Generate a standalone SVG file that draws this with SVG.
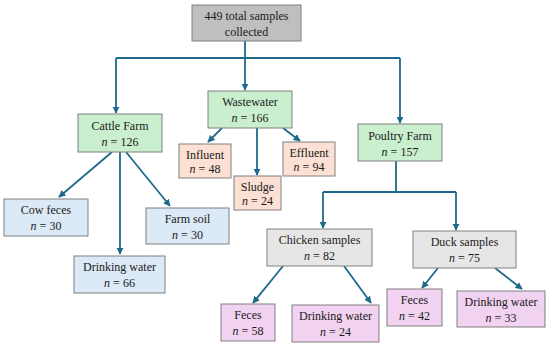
<svg xmlns="http://www.w3.org/2000/svg" width="550" height="348" viewBox="0 0 550 348">
<style>
.box{stroke:#808080;stroke-width:1}
.gray{fill:#bfbfbf}
.lgray{fill:#e7e6e6}
.green{fill:#c9efcf}
.peach{fill:#fbe0d3}
.blue{fill:#dce9f6}
.pink{fill:#f1d2f0}
text{font-size:12px;fill:#1a1a1a;text-anchor:middle}
.i{font-style:italic}
.c{fill:none;stroke:#1f6a8c;stroke-width:1.8}
</style>
<defs>
<marker id="ah" viewBox="0 0 10 10" refX="9" refY="5" markerWidth="4" markerHeight="4" orient="auto" markerUnits="strokeWidth">
<path d="M0,0 L10,5 L0,10 z" fill="#1f6a8c"/>
</marker>
</defs>
<rect width="550" height="348" fill="#ffffff"/>
<g id="connectors">
<path class="c" d="M245,41 V58 M116,58 H400"/>
<path class="c" d="M116,58 V113" marker-end="url(#ah)"/>
<path class="c" d="M245,58 V90" marker-end="url(#ah)"/>
<path class="c" d="M400,58 V123" marker-end="url(#ah)"/>
<path class="c" d="M222,128 L208,142" marker-end="url(#ah)"/>
<path class="c" d="M257,128 V175" marker-end="url(#ah)"/>
<path class="c" d="M283,128 L300,141" marker-end="url(#ah)"/>
<path class="c" d="M112,152 L59,197" marker-end="url(#ah)"/>
<path class="c" d="M120,152 V254" marker-end="url(#ah)"/>
<path class="c" d="M126,152 L170,206" marker-end="url(#ah)"/>
<path class="c" d="M396,161 V192 M323,192 H456"/>
<path class="c" d="M323,192 V228" marker-end="url(#ah)"/>
<path class="c" d="M456,192 V230" marker-end="url(#ah)"/>
<path class="c" d="M283,266 L253,303" marker-end="url(#ah)"/>
<path class="c" d="M344,266 L371,303" marker-end="url(#ah)"/>
<path class="c" d="M438,268 L422,288" marker-end="url(#ah)"/>
<path class="c" d="M495,268 L522,289" marker-end="url(#ah)"/>
</g>
<g font-family="'Liberation Serif', 'DejaVu Serif', serif">
<g id="total">
<rect class="box gray" x="192" y="5" width="109" height="36"/>
<text x="246.5" y="20">449 total samples</text>
<text x="246.5" y="36">collected</text>
</g>
<g id="wastewater">
<rect class="box green" x="208" y="91" width="84" height="37"/>
<text x="250" y="106">Wastewater</text>
<text x="250" y="122"><tspan class="i">n</tspan> = 166</text>
</g>
<g id="cattle">
<rect class="box green" x="78" y="114" width="84" height="38"/>
<text x="120" y="130">Cattle Farm</text>
<text x="120" y="146"><tspan class="i">n</tspan> = 126</text>
</g>
<g id="poultry">
<rect class="box green" x="358" y="124" width="84" height="37"/>
<text x="400" y="140">Poultry Farm</text>
<text x="400" y="156"><tspan class="i">n</tspan> = 157</text>
</g>
<g id="influent">
<rect class="box peach" x="179" y="144" width="52" height="34"/>
<text x="205" y="159">Influent</text>
<text x="205" y="173"><tspan class="i">n</tspan> = 48</text>
</g>
<g id="sludge">
<rect class="box peach" x="234" y="176" width="47" height="34"/>
<text x="257.5" y="191">Sludge</text>
<text x="257.5" y="205"><tspan class="i">n</tspan> = 24</text>
</g>
<g id="effluent">
<rect class="box peach" x="283" y="142" width="52" height="34"/>
<text x="309" y="157">Effluent</text>
<text x="309" y="171"><tspan class="i">n</tspan> = 94</text>
</g>
<g id="cowfeces">
<rect class="box blue" x="4" y="199" width="84" height="37"/>
<text x="46" y="214">Cow feces</text>
<text x="46" y="230"><tspan class="i">n</tspan> = 30</text>
</g>
<g id="farmsoil">
<rect class="box blue" x="146" y="208" width="83" height="36"/>
<text x="187.5" y="223">Farm soil</text>
<text x="187.5" y="239"><tspan class="i">n</tspan> = 30</text>
</g>
<g id="cattlewater">
<rect class="box blue" x="74" y="256" width="91" height="37"/>
<text x="119.5" y="271">Drinking water</text>
<text x="119.5" y="287"><tspan class="i">n</tspan> = 66</text>
</g>
<g id="chicken">
<rect class="box lgray" x="267" y="229" width="105" height="37"/>
<text x="319.5" y="244">Chicken samples</text>
<text x="319.5" y="260"><tspan class="i">n</tspan> = 82</text>
</g>
<g id="duck">
<rect class="box lgray" x="413" y="231" width="103" height="37"/>
<text x="464.5" y="246">Duck samples</text>
<text x="464.5" y="262"><tspan class="i">n</tspan> = 75</text>
</g>
<g id="chickenfeces">
<rect class="box pink" x="221" y="304" width="54" height="37"/>
<text x="248" y="319">Feces</text>
<text x="248" y="335"><tspan class="i">n</tspan> = 58</text>
</g>
<g id="chickenwater">
<rect class="box pink" x="292" y="305" width="87" height="37"/>
<text x="335.5" y="320">Drinking water</text>
<text x="335.5" y="336"><tspan class="i">n</tspan> = 24</text>
</g>
<g id="duckfeces">
<rect class="box pink" x="387" y="289" width="55" height="37"/>
<text x="414.5" y="304">Feces</text>
<text x="414.5" y="320"><tspan class="i">n</tspan> = 42</text>
</g>
<g id="duckwater">
<rect class="box pink" x="457" y="291" width="88" height="36"/>
<text x="501" y="306">Drinking water</text>
<text x="501" y="322"><tspan class="i">n</tspan> = 33</text>
</g>
</g>
</svg>
